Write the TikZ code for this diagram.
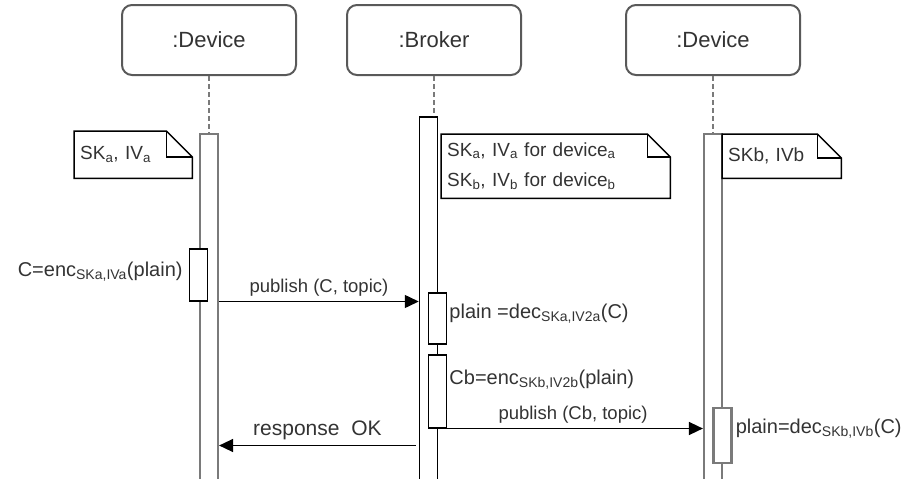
\documentclass[tikz,border=0pt]{standalone}
\usepackage{fontspec}
\setmainfont{Liberation Sans}
\usetikzlibrary{arrows.meta,positioning}

\definecolor{inkgray}{HTML}{333333}
\definecolor{linegray}{HTML}{7A7A7A}

\tikzset{
  head/.style={draw=black!65, line width=2pt, rounded corners=10pt, fill=white,
    minimum width=174pt, minimum height=70pt, text=inkgray,
    font=\fontsize{22}{26}\selectfont},
  lifeline/.style={linegray, line width=2pt, dash pattern=on 5pt off 3pt},
  devbar/.style={draw=linegray, line width=2.2pt, fill=white, minimum width=18pt,
    inner sep=0pt, anchor=north},
  brkbar/.style={draw=black, line width=1.5pt, fill=white, minimum width=18pt,
    inner sep=0pt, anchor=north},
  memo/.style={anchor=north west, inner xsep=6pt, inner ysep=4pt, align=left,
    text=inkgray, font=\fontsize{19}{30}\selectfont},
  msg/.style={-{Triangle[length=14pt,width=13pt]}, line width=1.5pt},
  msglbl/.style={text=inkgray, inner sep=1pt, font=\fontsize{18.5}{22}\selectfont},
  oplbl/.style={text=inkgray, inner sep=0pt, font=\fontsize{20}{24}\selectfont}
}

% folded-corner note drawn round a node: name, fold size
\newcommand\foldnote[2]{%
  \draw[line width=1.5pt] (#1.north west) -- ([xshift=-#2]#1.north east)
    -- ([yshift=-#2]#1.north east) -- (#1.south east) -- (#1.south west) -- cycle;
  \draw[line width=1.5pt] ([xshift=-#2]#1.north east) |- ([yshift=-#2]#1.north east);}

\begin{document}
\begin{tikzpicture}[x=1pt,y=-1pt]
\clip (0,0) rectangle (918,479);

% lifeline heads
\node[head] (devA) at (209,40) {:Device};
\node[head] (brk)  at (434,40) {:Broker};
\node[head] (devB) at (713,40) {:Device};

% activation bars
\node[devbar, minimum height=360pt] (actA) at (209,133) {};
\node[brkbar, minimum height=376pt] (actB) at (428.5,116) {};
\node[devbar, minimum height=360pt] (actC) at (713,133) {};
\node[brkbar, minimum height=52pt] (actA2) at (198.5,248) {};
\node[brkbar, minimum height=51pt] (actB1) at (437.5,292) {};
\node[brkbar, minimum height=73pt] (actB2) at (437.5,354) {};
\node[devbar, minimum height=55pt] (actC1) at (722.5,407) {};

\draw[lifeline] (devA.south) -- (devA.south |- actA.north);
\draw[lifeline] (brk.south) -- (brk.south |- actB.north);
\draw[lifeline] (devB.south) -- (devB.south |- actC.north);

% key notes
\node[memo, minimum width=118pt, minimum height=47pt, text width=106pt] (keyA) at (74,131)
  {SK\textsubscript{a}, IV\textsubscript{a}\\[-2pt]};
\foldnote{keyA}{26pt}
\node[memo, minimum width=229pt, minimum height=64pt, text width=217pt] (keyB) at (441,134)
  {SK\textsubscript{a}, IV\textsubscript{a} for device\textsubscript{a}\\
   SK\textsubscript{b}, IV\textsubscript{b} for device\textsubscript{b}};
\foldnote{keyB}{23pt}
\node[memo, minimum width=119pt, minimum height=44pt, text width=107pt] (keyC) at (722,134)
  {SKb, IVb\\[-4pt]};
\foldnote{keyC}{24pt}

% operations
\node[oplbl, anchor=east] (encA) at ([xshift=-6pt,yshift=3pt]actA2.west)
  {C=enc\textsubscript{SKa,IVa}(plain)};
\node[oplbl, anchor=west] (decB) at ([xshift=2pt,yshift=5pt]actB1.east)
  {plain =dec\textsubscript{SKa,IV2a}(C)};
\node[oplbl, anchor=west] (encB) at ([xshift=2pt,yshift=12pt]actB2.east)
  {Cb=enc\textsubscript{SKb,IV2b}(plain)};
\node[oplbl, anchor=west] (decC) at ([xshift=3pt,yshift=7pt]actC1.east)
  {plain=dec\textsubscript{SKb,IVb}(C)};

% messages
\coordinate (pubA) at (actA2.south -| actA.east);
\coordinate (pubB) at (actA2.south -| actB.west);
\draw[msg] (pubA) -- node[msglbl, above=3pt] {publish (C, topic)} (pubB);

\coordinate (okB) at ([yshift=-17pt]actB2.south -| actB.west);
\coordinate (okA) at ([yshift=-17pt]actB2.south -| actA.east);
\draw[msg] ([xshift=-3pt]okB) -- node[msglbl, above=4pt, font=\fontsize{21}{24}\selectfont]
  {response\ \ OK} (okA);

\coordinate (cbB) at (actB2.south east);
\coordinate (cbC) at (actB2.south -| actC.west);
\draw[msg] (cbB) -- node[msglbl, above=3pt, xshift=-2pt] {publish (Cb, topic)} (cbC);
\end{tikzpicture}
\end{document}
